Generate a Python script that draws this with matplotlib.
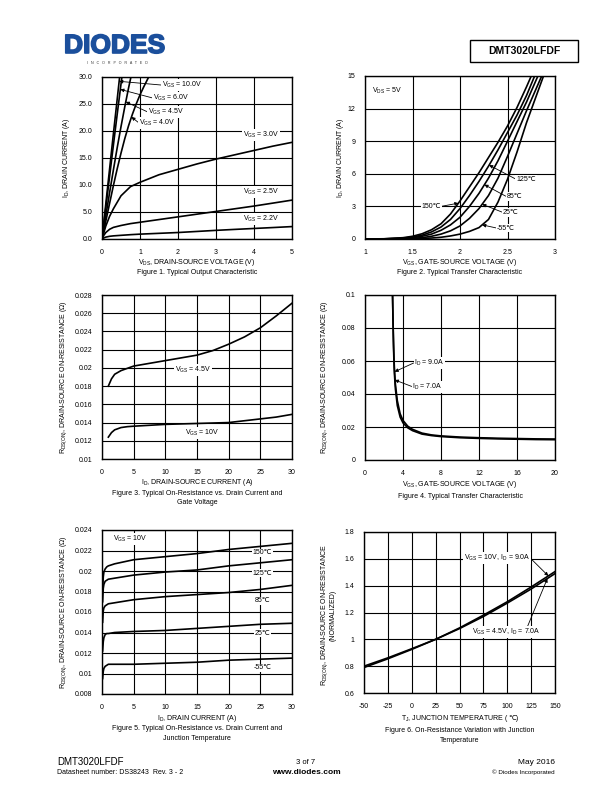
import matplotlib
matplotlib.use("Agg")
import matplotlib.pyplot as plt
import matplotlib.patheffects as pe
import numpy as np
from matplotlib.patches import Rectangle

plt.rcParams['font.family'] = ['Liberation Sans', 'DejaVu Sans']
plt.rcParams['mathtext.fontset'] = 'custom'
plt.rcParams['mathtext.rm'] = 'Liberation Sans'
plt.rcParams['mathtext.it'] = 'Liberation Sans:italic'
plt.rcParams['mathtext.bf'] = 'Liberation Sans:bold'

# ---- Figure 1: output characteristic ----
f1_vgs_labels = ["10.0V", "6.0V", "4.5V", "4.0V", "3.0V", "2.5V", "2.2V"]
f1_vds_10 = [0, 0.1, 0.2, 0.3, 0.4, 0.47]
f1_id_10 = [0, 6.5, 13.0, 19.5, 25.9, 30.4]
f1_vds_6 = [0, 0.1, 0.2, 0.3, 0.4, 0.5, 0.55]
f1_id_6 = [0, 5.8, 11.6, 17.4, 23.1, 28.7, 31.4]
f1_vds_45 = [0, 0.1, 0.2, 0.3, 0.4, 0.5, 0.6, 0.7, 0.78]
f1_id_45 = [0, 4.3, 8.6, 12.8, 16.9, 20.8, 24.5, 28.0, 30.6]
f1_vds_4 = [0, 0.1, 0.2, 0.3, 0.4, 0.5, 0.6, 0.7, 0.8, 0.9, 1.0, 1.1, 1.2, 1.25]
f1_id_4 = [0, 3.3, 6.6, 9.9, 13.0, 15.9, 18.6, 21.0, 23.1, 25.0, 26.7, 28.2, 29.6, 30.3]
f1_vds = [0, 0.05, 0.1, 0.2, 0.3, 0.5, 0.75, 1, 1.5, 2, 2.5, 3, 3.5, 4, 4.5, 5]
f1_id_3 = [0, 1.2, 2.4, 4.2, 5.6, 8.0, 9.7, 10.5, 11.9, 12.9, 13.9, 14.8, 15.6, 16.4, 17.2, 17.9]
f1_id_25 = [0, 0.7, 1.2, 1.8, 2.15, 2.5, 2.85, 3.1, 3.6, 4.1, 4.6, 5.1, 5.6, 6.1, 6.65, 7.2]
f1_id_22 = [0, 0.2, 0.35, 0.5, 0.58, 0.68, 0.8, 0.9, 1.05, 1.2, 1.4, 1.6, 1.78, 1.95, 2.12, 2.3]

# ---- Figure 2: transfer characteristic ----
f2_temps = ["150℃", "125℃", "85℃", "25℃", "-55℃"]
f2_vgs = [1.0, 1.2, 1.4, 1.5, 1.6, 1.7, 1.8, 1.9, 2.0, 2.1, 2.2, 2.3, 2.4, 2.5, 2.6, 2.7, 2.8, 2.9]
f2_id_150 = [0, 0.02, 0.12, 0.25, 0.48, 0.85, 1.4, 2.3, 3.5, 4.8, 6.1, 7.5, 8.9, 10.4, 12.1, 14.0, 16.0, 18.0]
f2_id_125 = [0, 0.015, 0.08, 0.18, 0.35, 0.65, 1.1, 1.8, 2.8, 4.0, 5.3, 6.7, 8.2, 9.8, 11.4, 13.2, 15.3, 17.4]
f2_id_85 = [0, 0.01, 0.05, 0.12, 0.25, 0.45, 0.8, 1.3, 2.0, 3.0, 4.2, 5.6, 7.2, 9.0, 10.8, 12.6, 14.6, 16.6]
f2_id_25 = [0, 0.005, 0.03, 0.06, 0.12, 0.25, 0.45, 0.75, 1.2, 1.9, 2.8, 4.0, 5.6, 7.6, 9.7, 11.8, 13.8, 15.8]
f2_id_m55 = [0, 0.003, 0.015, 0.03, 0.05, 0.09, 0.16, 0.28, 0.45, 0.7, 1.05, 1.8, 3.4, 5.5, 8.0, 10.7, 13.1, 15.5]

# ---- Figure 3: RDS(on) vs ID and VGS ----
f3_id = [1, 1.5, 2, 3, 4, 5, 7.5, 10, 12.5, 15, 17.5, 20, 22.5, 25, 27.5, 30]
f3_r_45 = [0.0180, 0.0188, 0.0193, 0.0197, 0.01995, 0.0202, 0.0205, 0.0208, 0.0211,
           0.0214, 0.0219, 0.0226, 0.0234, 0.0244, 0.0257, 0.0271]
f3_r_10 = [0.0124, 0.0129, 0.0132, 0.01345, 0.01355, 0.0136, 0.0137, 0.0138, 0.01385,
           0.0139, 0.01395, 0.0140, 0.0142, 0.0144, 0.0146, 0.0149]

# ---- Figure 4: RDS(on) vs VGS ----
f4_vgs = [2.9, 2.95, 3.0, 3.05, 3.1, 3.2, 3.4, 3.7, 4.0, 4.5, 5, 6, 7, 8, 10, 12, 14, 16, 18, 20]
f4_r_9a = [0.100, 0.085, 0.072, 0.062, 0.055, 0.046, 0.036, 0.028, 0.024, 0.0205, 0.0186,
           0.0163, 0.0152, 0.0146, 0.0139, 0.0135, 0.0132, 0.0130, 0.0128, 0.0127]
f4_r_7a = [0.100, 0.083, 0.069, 0.059, 0.052, 0.043, 0.033, 0.026, 0.0225, 0.0195, 0.0178,
           0.0157, 0.0148, 0.0142, 0.0135, 0.0131, 0.0128, 0.0126, 0.0124, 0.0123]

# ---- Figure 5: RDS(on) vs ID and temperature ----
f5_id = [0.1, 0.2, 0.3, 0.5, 0.75, 1, 2, 5, 10, 15, 20, 25, 30]
f5_r_150 = [0.0180, 0.0194, 0.0199, 0.0202, 0.0204, 0.0205, 0.0207, 0.0211, 0.0214, 0.0217, 0.0221, 0.0224, 0.0227]
f5_r_125 = [0.0170, 0.0183, 0.0187, 0.0190, 0.0191, 0.0192, 0.0193, 0.0196, 0.0199, 0.0201, 0.0205, 0.0208, 0.0211]
f5_r_85 = [0.0150, 0.0161, 0.0164, 0.0166, 0.0167, 0.0168, 0.0169, 0.0172, 0.0175, 0.0177, 0.0179, 0.0182, 0.0186]
f5_r_25 = [0.0122, 0.0131, 0.0135, 0.0138, 0.0139, 0.0139, 0.0140, 0.0141, 0.0142, 0.0144, 0.0146, 0.0148, 0.0149]
f5_r_m55 = [0.0095, 0.0102, 0.0105, 0.0107, 0.0108, 0.0109, 0.0109, 0.0109, 0.0110, 0.0111, 0.0113, 0.0114, 0.0115]

# ---- Figure 6: normalized RDS(on) vs Tj ----
f6_tj = [-50, -25, 0, 25, 50, 75, 100, 125, 150]
f6_r_10v = [0.79, 0.855, 0.925, 1.0, 1.085, 1.18, 1.28, 1.39, 1.505]
f6_r_45v = [0.80, 0.862, 0.93, 1.0, 1.08, 1.17, 1.27, 1.375, 1.49]

W, H = 612, 792
FS = 5
LW = 1.2

fig = plt.figure(figsize=(W / 100, H / 100), dpi=100)


def rect(l, t, r, b):
    return [l / W, 1 - b / H, (r - l) / W, (b - t) / H]


def ftext(x, y, s, **kw):
    kw.setdefault('fontsize', FS)
    kw.setdefault('ha', 'center')
    kw.setdefault('va', 'center')
    return fig.text(x / W, 1 - y / H, s, **kw)


def style(ax, xt, xl, yt, yl):
    ax.set_xlim(xt[0], xt[-1])
    ax.set_ylim(yt[0], yt[-1])
    ax.set_xticks(xt)
    ax.set_xticklabels(xl)
    ax.set_yticks(yt)
    ax.set_yticklabels(yl)
    ax.grid(True, color='black', lw=0.8)
    ax.set_axisbelow(True)
    ax.tick_params(length=0, labelsize=FS, pad=7)
    for s in ax.spines.values():
        s.set_linewidth(1.0)


def arrow(ax, s, tip, pos, relpos=(0, 0.5), ha='left', box=False):
    ax.annotate(s, xy=tip, xytext=pos, fontsize=FS, ha=ha, va='center',
                bbox=dict(fc='white', ec='none', pad=0.6) if box else None,
                arrowprops=dict(arrowstyle='-|>', color='black', lw=0.6,
                                mutation_scale=5, shrinkA=0, shrinkB=0, relpos=relpos))


def label(ax, x, y, s, ha='center'):
    ax.text(x, y, s, fontsize=FS, ha=ha, va='center',
            bbox=dict(fc='white', ec='none', pad=0.6))


# header
blue = '#1b4f9c'
logo = ftext(64, 46, 'DIODES', fontsize=19, fontweight='bold', color=blue, ha='left')
logo.set_path_effects([pe.withStroke(linewidth=1.2, foreground=blue)])
ftext(117, 63, 'I   N   C   O   R   P   O   R   A   T   E   D', fontsize=2.6, color='#333333')
fig.add_artist(plt.Line2D([62 / W, 172 / W], [1 - 44 / H, 1 - 44 / H], color='white', lw=0.7))
fig.patches.append(Rectangle((470 / W, 1 - 62 / H), 108 / W, 22 / H, transform=fig.transFigure,
                             fill=False, ec='black', lw=1.0))
ftext(524, 51, 'DMT3020LFDF', fontsize=7.5, fontweight='bold')

# Figure 1
ax1 = fig.add_axes(rect(102, 77, 292, 239))
style(ax1, [0, 1, 2, 3, 4, 5], ['0', '1', '2', '3', '4', '5'],
      [0, 5, 10, 15, 20, 25, 30], ['0.0', '5.0', '10.0', '15.0', '20.0', '25.0', '30.0'])
for xs, ys in [(f1_vds_10, f1_id_10), (f1_vds_6, f1_id_6), (f1_vds_45, f1_id_45),
               (f1_vds_4, f1_id_4), (f1_vds, f1_id_3), (f1_vds, f1_id_25), (f1_vds, f1_id_22)]:
    ax1.plot(xs, ys, color='black', lw=LW)
steep = [(f1_vds_10, f1_id_10, 29.2, (1.58, 28.5)), (f1_vds_6, f1_id_6, 27.7, (1.34, 26.1)),
         (f1_vds_45, f1_id_45, 25.4, (1.21, 23.5)), (f1_vds_4, f1_id_4, 22.6, (0.97, 21.5))]
for lab, (xs, ys, yt, pos) in zip(f1_vgs_labels[:4], steep):
    arrow(ax1, r'V$_\mathrm{GS}$ = ' + lab, (np.interp(yt, ys, xs), yt), pos, box=True)
for lab, y in zip(f1_vgs_labels[4:], [19.3, 8.7, 3.7]):
    label(ax1, 3.7, y, r'V$_\mathrm{GS}$ = ' + lab, ha='left')
ftext(197, 262, r'V$_\mathrm{DS}$, DRAIN-SOURCE VOLTAGE (V)')
ftext(197, 272, 'Figure 1. Typical Output Characteristic')
ftext(67, 158, r'I$_\mathrm{D}$, DRAIN CURRENT (A)', rotation=90)

# Figure 2
ax2 = fig.add_axes(rect(365, 76, 555, 239))
style(ax2, [1, 1.5, 2, 2.5, 3], ['1', '1.5', '2', '2.5', '3'],
      [0, 3, 6, 9, 12, 15], ['0', '3', '6', '9', '12', '15'])
f2_series = [f2_id_150, f2_id_125, f2_id_85, f2_id_25, f2_id_m55]
for ys in f2_series:
    ax2.plot(f2_vgs, ys, color='black', lw=LW)
label(ax2, 1.07, 13.6, r'V$_\mathrm{DS}$ = 5V', ha='left')
tips = [3.3, 6.8, 5.0, 3.2, 1.3]
pos2 = [(1.80, 3.0), (2.59, 5.5), (2.49, 3.9), (2.45, 2.45), (2.39, 1.0)]
for lab, ys, yt, pos in zip(f2_temps, f2_series, tips, pos2):
    first = lab == '150℃'
    arrow(ax2, lab, (np.interp(yt, ys, f2_vgs), yt), pos,
          relpos=(1, 0.5) if first else (0, 0.5), ha='right' if first else 'left', box=True)
ftext(460, 262, r'V$_\mathrm{GS}$, GATE-SOURCE VOLTAGE (V)')
ftext(460, 272, 'Figure 2. Typical Transfer Characteristic')
ftext(341, 158, r'I$_\mathrm{D}$, DRAIN CURRENT (A)', rotation=90)

# Figure 3
ax3 = fig.add_axes(rect(102, 295, 292, 459))
f3_yt = [0.01, 0.012, 0.014, 0.016, 0.018, 0.02, 0.022, 0.024, 0.026, 0.028]
style(ax3, [0, 5, 10, 15, 20, 25, 30], ['0', '5', '10', '15', '20', '25', '30'],
      f3_yt, ['0.01', '0.012', '0.014', '0.016', '0.018', '0.02', '0.022', '0.024', '0.026', '0.028'])
ax3.plot(f3_id, f3_r_45, color='black', lw=LW)
ax3.plot(f3_id, f3_r_10, color='black', lw=LW)
label(ax3, 14.4, 0.0198, r'V$_\mathrm{GS}$ = 4.5V')
label(ax3, 15.9, 0.01285, r'V$_\mathrm{GS}$ = 10V')
ftext(197, 482, r'I$_\mathrm{D}$, DRAIN-SOURCE CURRENT (A)')
ftext(197, 493, 'Figure 3. Typical On-Resistance vs. Drain Current and')
ftext(197, 503, 'Gate Voltage')
ftext(64, 377, r'R$_\mathrm{DS(ON)}$, DRAIN-SOURCE ON-RESISTANCE (Ω)', rotation=90)

# Figure 4
ax4 = fig.add_axes(rect(365, 295, 555, 460))
style(ax4, [0, 4, 8, 12, 16, 20], ['0', '4', '8', '12', '16', '20'],
      [0, 0.02, 0.04, 0.06, 0.08, 0.1], ['0', '0.02', '0.04', '0.06', '0.08', '0.1'])
ax4.plot(f4_vgs, f4_r_9a, color='black', lw=LW)
ax4.plot(f4_vgs, f4_r_7a, color='black', lw=LW)
arrow(ax4, r'I$_\mathrm{D}$ = 9.0A', (np.interp(-0.0535, [-r for r in f4_r_9a], f4_vgs), 0.0535),
      (5.2, 0.059), box=True)
arrow(ax4, r'I$_\mathrm{D}$ = 7.0A', (np.interp(-0.0485, [-r for r in f4_r_7a], f4_vgs), 0.0485),
      (5.0, 0.0444), box=True)
ftext(460, 484, r'V$_\mathrm{GS}$, GATE-SOURCE VOLTAGE (V)')
ftext(460, 496, 'Figure 4. Typical Transfer Characteristic')
ftext(325, 377, r'R$_\mathrm{DS(ON)}$, DRAIN-SOURCE ON-RESISTANCE (Ω)', rotation=90)

# Figure 5
ax5 = fig.add_axes(rect(102, 530, 292, 694))
f5_yt = [0.008, 0.01, 0.012, 0.014, 0.016, 0.018, 0.02, 0.022, 0.024]
style(ax5, [0, 5, 10, 15, 20, 25, 30], ['0', '5', '10', '15', '20', '25', '30'],
      f5_yt, ['0.008', '0.01', '0.012', '0.014', '0.016', '0.018', '0.02', '0.022', '0.024'])
f5_series = [f5_r_150, f5_r_125, f5_r_85, f5_r_25, f5_r_m55]
for ys in f5_series:
    ax5.plot(f5_id, ys, color='black', lw=LW)
label(ax5, 1.74, 0.0231, r'V$_\mathrm{GS}$ = 10V', ha='left')
for lab, y in zip(f2_temps, [0.02176, 0.0198, 0.01708, 0.01395, 0.01054]):
    label(ax5, 25.3, y, lab)
ftext(197, 718, r'I$_\mathrm{D}$, DRAIN CURRENT (A)')
ftext(197, 728, 'Figure 5. Typical On-Resistance vs. Drain Current and')
ftext(197, 739, 'Junction Temperature')
ftext(64, 612, r'R$_\mathrm{DS(ON)}$, DRAIN-SOURCE ON-RESISTANCE (Ω)', rotation=90)

# Figure 6
ax6 = fig.add_axes(rect(364, 532, 555, 693))
style(ax6, [-50, -25, 0, 25, 50, 75, 100, 125, 150],
      ['-50', '-25', '0', '25', '50', '75', '100', '125', '150'],
      [0.6, 0.8, 1.0, 1.2, 1.4, 1.6, 1.8], ['0.6', '0.8', '1', '1.2', '1.4', '1.6', '1.8'])
ax6.plot(f6_tj, f6_r_10v, color='black', lw=LW)
ax6.plot(f6_tj, f6_r_45v, color='black', lw=LW)
arrow(ax6, r'V$_\mathrm{GS}$ = 10V, I$_\mathrm{D}$ = 9.0A', (143, np.interp(143, f6_tj, f6_r_10v)),
      (89, 1.608), relpos=(1, 0.5), ha='center', box=True)
arrow(ax6, r'V$_\mathrm{GS}$ = 4.5V, I$_\mathrm{D}$ = 7.0A', (142, np.interp(142, f6_tj, f6_r_45v)),
      (99.4, 1.052), relpos=(0.8, 1.0), ha='center', box=True)
# x label: mathtext part and the degree sign drawn side by side
t_a = ftext(460, 719, r'T$_\mathrm{J}$, JUNCTION TEMPERATURE (', ha='right')
t_b = ftext(460, 719, '℃)', ha='left')
fig.canvas.draw()
wa = t_a.get_window_extent().width
wb = t_b.get_window_extent().width
xm = 460 - (wa + wb) / 2 + wa
t_a.set_x(xm / W)
t_b.set_x(xm / W)
ftext(460, 731, 'Figure 6. On-Resistance Variation with Junction')
ftext(460, 741, 'Temperature')
ftext(325, 615, r'R$_\mathrm{DS(ON)}$, DRAIN-SOURCE ON-RESISTANCE', rotation=90)
ftext(333, 615, '(NORMALIZED)', rotation=90)

# footer
ftext(57, 762, 'DMT3020LFDF', fontsize=7, ha='left')
ftext(57, 773, 'Datasheet number: DS38243  Rev. 3 - 2', fontsize=5, ha='left')
ftext(306, 762, '3 of 7', fontsize=5.5)
ftext(306, 772, 'www.diodes.com', fontsize=6, fontweight='bold')
ftext(555, 762, 'May 2016', fontsize=6, ha='right')
ftext(555, 772, '© Diodes Incorporated', fontsize=4.5, ha='right')

fig.savefig('out.png', dpi=100)
